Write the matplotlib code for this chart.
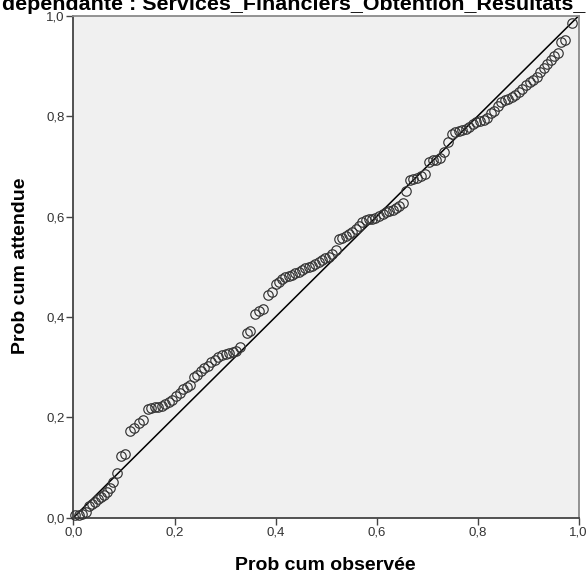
import matplotlib
matplotlib.use("Agg")
import matplotlib.pyplot as plt
from matplotlib.ticker import FixedLocator

# Observed cumulative probability (x) and expected cumulative probability (y)
obs_prob = [
    0.003, 0.010, 0.017, 0.024, 0.031, 0.037, 0.043, 0.049, 0.055, 0.061,
    0.067, 0.073, 0.079, 0.086, 0.095, 0.102,
    0.111, 0.120, 0.129, 0.138, 0.147, 0.154, 0.161, 0.168, 0.175, 0.182,
    0.189, 0.196,
    0.203, 0.210, 0.217, 0.224, 0.231, 0.238, 0.245, 0.252, 0.259, 0.266,
    0.273, 0.280, 0.287, 0.294, 0.301, 0.308, 0.315, 0.322, 0.330, 0.343,
    0.350, 0.360, 0.368, 0.376, 0.386, 0.393,
    0.400, 0.406, 0.413, 0.419, 0.426, 0.433, 0.439, 0.446, 0.453, 0.459,
    0.466, 0.473, 0.479, 0.486, 0.492, 0.499, 0.506, 0.512, 0.519, 0.526,
    0.532, 0.539, 0.545, 0.552, 0.559, 0.565, 0.572, 0.579, 0.585, 0.592,
    0.598,
    0.605, 0.612, 0.618, 0.625, 0.632, 0.638, 0.645, 0.652, 0.658, 0.666,
    0.673, 0.681, 0.689, 0.697, 0.704, 0.711, 0.718, 0.725, 0.733, 0.741,
    0.749, 0.756, 0.763, 0.770, 0.777, 0.784, 0.791, 0.798, 0.805, 0.812,
    0.819, 0.826, 0.833, 0.840, 0.847,
    0.854, 0.861, 0.868, 0.875, 0.882, 0.889, 0.896, 0.903, 0.910, 0.917,
    0.924, 0.931, 0.938, 0.945, 0.952, 0.959, 0.966, 0.973, 0.988,
]
exp_prob = [
    0.005, 0.005, 0.006, 0.011, 0.022, 0.027, 0.031, 0.036, 0.041, 0.045,
    0.051, 0.058, 0.070, 0.088, 0.122, 0.127,
    0.173, 0.178, 0.188, 0.194, 0.217, 0.219, 0.220, 0.221, 0.223, 0.226,
    0.230, 0.234,
    0.242, 0.249, 0.256, 0.261, 0.264, 0.280, 0.285, 0.293, 0.299, 0.303,
    0.310, 0.315, 0.320, 0.324, 0.326, 0.328, 0.330, 0.333, 0.339, 0.368,
    0.372, 0.405, 0.411, 0.415, 0.444, 0.450,
    0.465, 0.470, 0.476, 0.480, 0.482, 0.484, 0.487, 0.490, 0.494, 0.497,
    0.500, 0.502, 0.506, 0.510, 0.514, 0.517, 0.520, 0.525, 0.534, 0.555,
    0.558, 0.561, 0.565, 0.570, 0.575, 0.581, 0.590, 0.593, 0.595, 0.596,
    0.597,
    0.601, 0.605, 0.609, 0.611, 0.614, 0.617, 0.621, 0.628, 0.652, 0.672,
    0.674, 0.676, 0.680, 0.685, 0.709, 0.713, 0.713, 0.716, 0.729, 0.749,
    0.765, 0.768, 0.770, 0.772, 0.775, 0.779, 0.785, 0.789, 0.791, 0.793,
    0.797, 0.806, 0.811, 0.820, 0.829,
    0.832, 0.835, 0.839, 0.843, 0.849, 0.855, 0.862, 0.868, 0.873, 0.878,
    0.889, 0.897, 0.904, 0.912, 0.920, 0.926, 0.949, 0.952, 0.987,
]
tick_values = [0.0, 0.2, 0.4, 0.6, 0.8, 1.0]
tick_labels = ["0,0", "0,2", "0,4", "0,6", "0,8", "1,0"]
ref_line = [0.0, 1.0]

title_text = "dépendante : Services_Financiers_Obtention_Résultats_"
xlabel_text = "Prob cum observée"
ylabel_text = "Prob cum attendue"

plt.rcParams['font.family'] = ['Liberation Sans', 'DejaVu Sans']

W, H = 587, 579
fig = plt.figure(figsize=(W / 100, H / 100), dpi=100)
fig.patch.set_facecolor("white")

ax = fig.add_axes([73.5 / W, (H - 517.5) / H, (578.5 - 73.5) / W, (517.5 - 16) / H])
ax.set_facecolor("#F0F0F0")

ax.plot(ref_line, ref_line, color="black", linewidth=1.1, zorder=2)
ax.plot(obs_prob, exp_prob, linestyle="none", marker="o", markersize=6.8,
        markerfacecolor="none", markeredgecolor="#333333", markeredgewidth=0.85,
        zorder=3, clip_on=False)

ax.set_xlim(0, 1)
ax.set_ylim(0, 1)
ax.xaxis.set_major_locator(FixedLocator(tick_values))
ax.yaxis.set_major_locator(FixedLocator(tick_values))
ax.set_xticklabels(tick_labels)
ax.set_yticklabels(tick_labels)
ax.tick_params(axis="both", direction="out", length=5, width=1.0, color="#444444",
               labelsize=9.5, labelcolor="#333333", pad=1.5)

for side in ["left", "bottom"]:
    ax.spines[side].set_color("#444444")
    ax.spines[side].set_linewidth(1.3)
for side in ["top", "right"]:
    ax.spines[side].set_color("#8a8a8a")
    ax.spines[side].set_linewidth(1.3)

fig.text(325 / W, 1 - 565 / H, xlabel_text, ha="center", va="center",
         fontsize=14, fontweight="bold", color="black")
fig.text(21 / W, 1 - 266 / H, ylabel_text, ha="center", va="center",
         rotation=90, fontsize=14, fontweight="bold", color="black")

# Title (cut off at the top of the image, as in the reference)
t = fig.text(2 / W, 1 - 9.5 / H, title_text, ha="left", va="baseline",
             fontsize=14, fontweight="bold", color="black")
fig.canvas.draw()
bb = t.get_window_extent(renderer=fig.canvas.get_renderer())
t.set_fontsize(14 * 583.0 / bb.width)

fig.savefig("out.png", dpi=100)
